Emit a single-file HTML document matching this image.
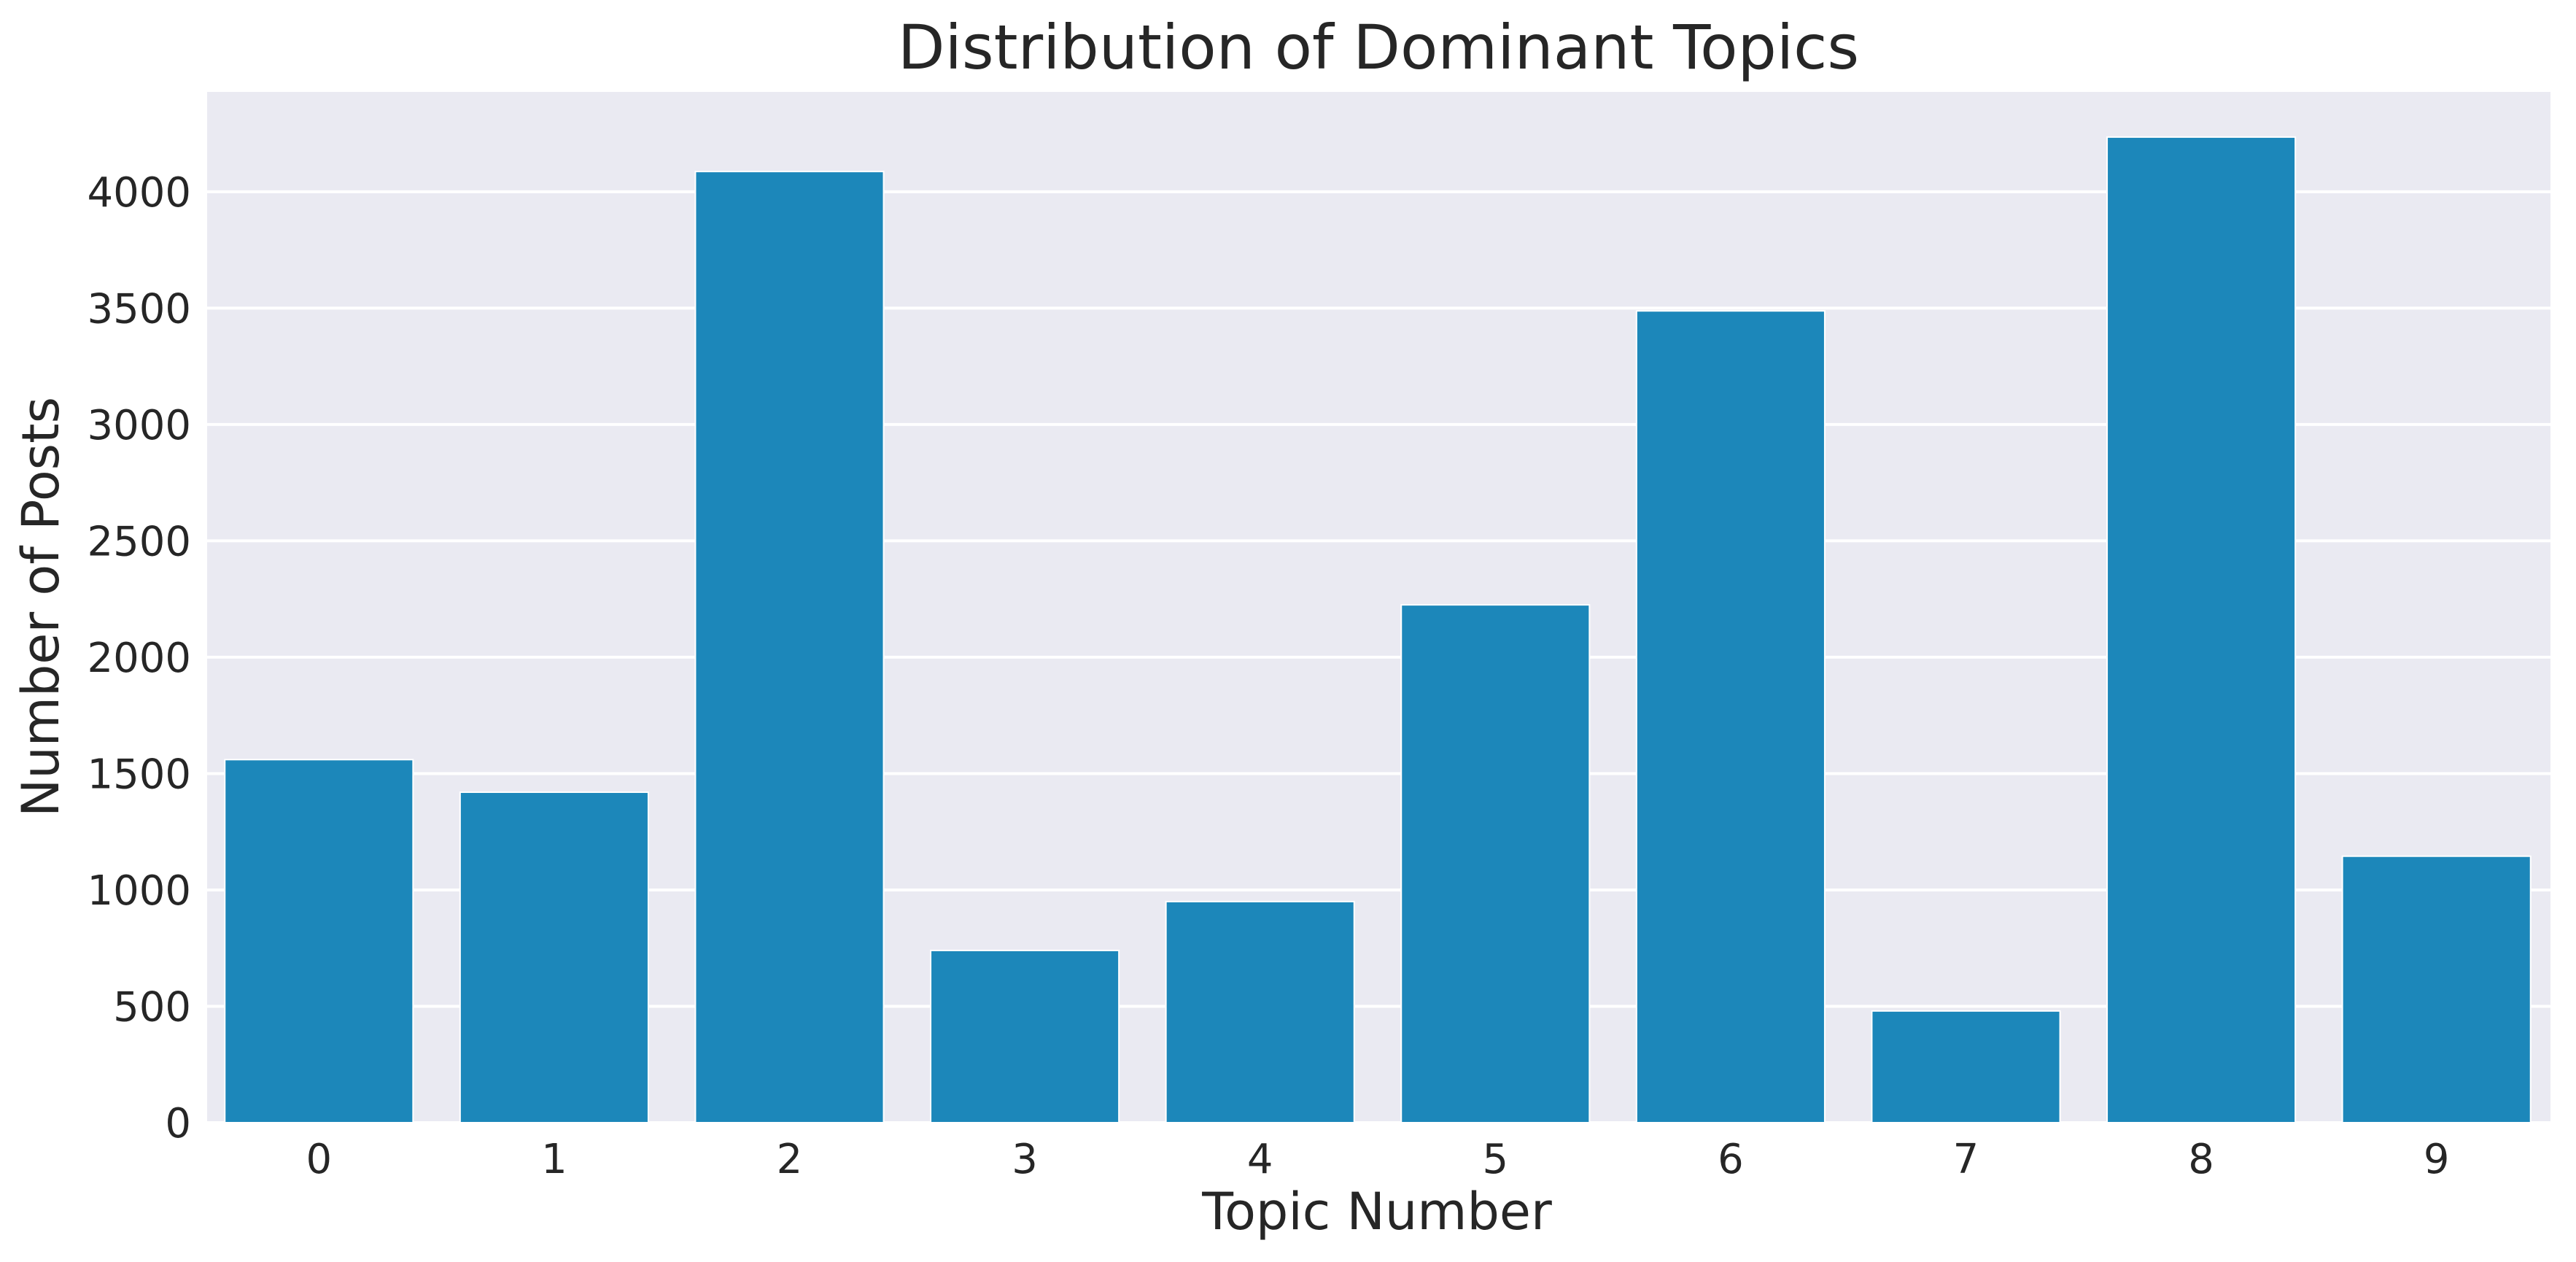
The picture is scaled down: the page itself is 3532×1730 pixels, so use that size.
<!DOCTYPE html>
<html><head><meta charset="utf-8"><style>
html,body{margin:0;padding:0;background:#fff;}
svg{display:block;font-family:"DejaVu Sans","Liberation Sans",sans-serif;}
</style></head><body>
<svg id="chart" width="3532" height="1730" viewBox="0 0 3532 1730" xmlns="http://www.w3.org/2000/svg">
<rect x="284" y="126" width="3213" height="1413" fill="#eaeaf2"/>
<g id="grid"></g><g id="bars"></g><g id="yticks"></g><g id="xticks"></g>
<text x="1890" y="94" font-size="84" text-anchor="middle" fill="#262626">Distribution of Dominant Topics</text>
<text x="1888" y="1685" font-size="70" text-anchor="middle" fill="#262626">Topic Number</text>
<text transform="translate(80,832) rotate(-90)" font-size="70" text-anchor="middle" fill="#262626">Number of Posts</text>
</svg>
<script>
const categories = ["0","1","2","3","4","5","6","7","8","9"];
const counts = [1560, 1420, 4087, 740, 950, 2225, 3488, 480, 4235, 1145];
const yTicks = [0, 500, 1000, 1500, 2000, 2500, 3000, 3500, 4000];
const NS = "http://www.w3.org/2000/svg";
const L = 276, T = 126, B = 1539, yMax = 4429, band = 322.6;
const y = v => B - (v / yMax) * (B - T);
const x = i => L + band * i;
function mk(tag, attrs, parent){const e=document.createElementNS(NS,tag);for(const k in attrs)e.setAttribute(k,attrs[k]);document.getElementById(parent).appendChild(e);return e;}
yTicks.forEach(t => {
  const g = mk("line",{x1:284,x2:3497,y1:y(t),y2:y(t),stroke:"#fff","stroke-width":4},"grid");
  
  
  const lb = mk("text",{x:262,y:y(t)+20,"font-size":56,"text-anchor":"end",fill:"#262626"},"yticks");
  lb.textContent = t;
  
  
});
categories.forEach((c, i) => {
  const bw = band * 0.8;
  const r = mk("rect",{x:x(i)+band*0.1,y:y(counts[i]),width:bw,height:B-y(counts[i]),fill:"#1c87ba",stroke:"#fff","stroke-width":2},"bars");
  
  
  const lb = mk("text",{x:x(i)+band/2,y:1608,"font-size":56,"text-anchor":"middle",fill:"#262626"},"xticks");
  lb.textContent = c;
  
  
});
</script>
</body></html>
